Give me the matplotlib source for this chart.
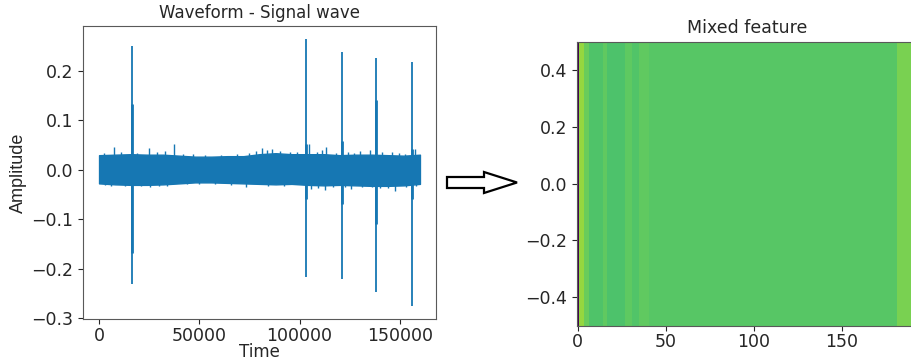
import numpy as np
import matplotlib
matplotlib.use("Agg")
import matplotlib.pyplot as plt
from matplotlib.patches import Polygon

# ---------------- data ----------------
# base noise envelope of the waveform (sampled every 8000 samples)
env_time = [0, 8000, 16000, 24000, 32000, 40000, 48000, 56000, 64000, 72000,
            80000, 88000, 96000, 104000, 112000, 120000, 128000, 136000, 144000, 152000,
            160000]
env_upper = [0.029, 0.030, 0.031, 0.030, 0.030, 0.028, 0.026, 0.026, 0.027, 0.027,
             0.031, 0.033, 0.031, 0.031, 0.031, 0.029, 0.030, 0.030, 0.029, 0.028,
             0.030]
env_lower = [-0.028, -0.030, -0.031, -0.031, -0.030, -0.028, -0.026, -0.026, -0.027, -0.028,
             -0.029, -0.030, -0.029, -0.031, -0.032, -0.031, -0.032, -0.033, -0.033, -0.032,
             -0.029]

# thin noise peaks sticking out of the band
peak_up_time = [2500, 7600, 11000, 19000, 25000, 29000, 33000, 37400, 42000, 47000,
                53000, 61000, 69000, 75000, 78500, 81000, 83500, 86000, 90000, 95000,
                98500, 104800, 108500, 111000, 113000, 118000, 124000, 127000, 130000, 135000,
                141000, 146000, 149500, 152500, 157500]
peak_up_value = [0.033, 0.045, 0.036, 0.034, 0.043, 0.036, 0.037, 0.051, 0.032, 0.031,
                 0.030, 0.030, 0.031, 0.033, 0.037, 0.043, 0.040, 0.042, 0.037, 0.036,
                 0.035, 0.052, 0.036, 0.039, 0.046, 0.034, 0.035, 0.033, 0.037, 0.040,
                 0.036, 0.035, 0.033, 0.031, 0.041]
peak_dn_time = [3000, 6000, 13000, 21000, 25500, 30000, 34000, 44000, 50000, 58000,
                66000, 73500, 84000, 92000, 105500, 109000, 112500, 116500, 122500, 125500,
                131000, 136000, 140000, 144000, 147400, 153000, 158000]
peak_dn_value = [-0.032, -0.034, -0.033, -0.033, -0.036, -0.033, -0.033, -0.030, -0.030, -0.030,
                 -0.031, -0.035, -0.033, -0.033, -0.040, -0.037, -0.041, -0.036, -0.036, -0.040,
                 -0.035, -0.036, -0.038, -0.037, -0.044, -0.036, -0.034]

# spikes
spike_time = [16200, 103400, 121100, 138300, 156200]
spike_top = [0.250, 0.263, 0.237, 0.225, 0.218]
spike_bottom = [-0.232, -0.217, -0.222, -0.248, -0.275]
spike_mid_top = [0.132, 0.052, 0.058, 0.140, 0.042]
spike_mid_bottom = [-0.168, -0.060, -0.070, -0.110, -0.060]

# mixed feature (1 x 193 strip), given as runs of equal value
feat_run_lengths = [1, 3, 3, 8, 2, 10, 4, 4, 6, 140, 12]
feat_run_values = [0.00, 0.84, 0.77, 0.725, 0.755, 0.72, 0.75, 0.73, 0.755, 0.74, 0.80]

xticks_left = [0, 50000, 100000, 150000]
yticks_left = [-0.3, -0.2, -0.1, 0.0, 0.1, 0.2]
xticks_right = [0, 50, 100, 150]
yticks_right = [-0.4, -0.2, 0.0, 0.2, 0.4]

# ---------------- figure ----------------
W, H = 911, 360
fig = plt.figure(figsize=(W / 100, H / 100), dpi=100)

blue = "#1677b3"
spine_col = "0.35"
tick_fs = 12.5

def px_rect(l, t, r, b):
    return [l / W, (H - b) / H, (r - l) / W, (b - t) / H]

# left axes: waveform
ax1 = fig.add_axes(px_rect(83, 26, 436, 319))
ax1.fill_between(env_time, env_lower, env_upper, color=blue, lw=1.0, edgecolor=blue)
ax1.vlines(peak_up_time, 0, peak_up_value, color=blue, lw=1.0)
ax1.vlines(peak_dn_time, peak_dn_value, 0, color=blue, lw=1.0)
ax1.vlines(spike_time, spike_bottom, spike_top, color=blue, lw=1.3)
ax1.vlines(spike_time, spike_mid_bottom, spike_mid_top, color=blue, lw=2.0)
ax1.margins(x=0.05, y=0.05)
ax1.set_xticks(xticks_left)
ax1.set_yticks(yticks_left)
ax1.tick_params(labelsize=tick_fs, colors="0.15")
ax1.tick_params(axis="x", pad=2)
ax1.set_title("Waveform - Signal wave", fontsize=12, color="0.15")
ax1.set_xlabel("Time", fontsize=12, color="0.15")
ax1.xaxis.set_label_coords(0.5, -0.082)
ax1.set_ylabel("Amplitude", fontsize=13, color="0.15",
               family=["Liberation Sans", "DejaVu Sans"])
ax1.yaxis.set_label_coords(-0.16, 0.5)
for s in ax1.spines.values():
    s.set_color(spine_col)

# right axes: mixed feature
ax2 = fig.add_axes(px_rect(576.8, 41.6, 917, 325.7))
feat = np.repeat(feat_run_values, feat_run_lengths)[np.newaxis, :]
ax2.imshow(feat, cmap="viridis", vmin=0, vmax=1, aspect="auto", origin="lower",
           interpolation="nearest")
ax2.set_xticks(xticks_right)
ax2.set_yticks(yticks_right)
ax2.tick_params(labelsize=tick_fs, colors="0.15")
ax2.tick_params(axis="x", pad=2)
ax2.set_title("Mixed feature", fontsize=12.5, color="0.15")
for s in ax2.spines.values():
    s.set_color(spine_col)

# block arrow between panels (figure pixel coordinates)
arrow_px = [(447, 177), (484, 177), (484, 172), (517, 182.5),
            (484, 193), (484, 188), (447, 188)]
arrow = Polygon([(x / W, (H - y) / H) for x, y in arrow_px], closed=True,
                transform=fig.transFigure, facecolor="white", edgecolor="black", lw=1.6)
fig.patches.append(arrow)

fig.savefig("out.png", dpi=100)
